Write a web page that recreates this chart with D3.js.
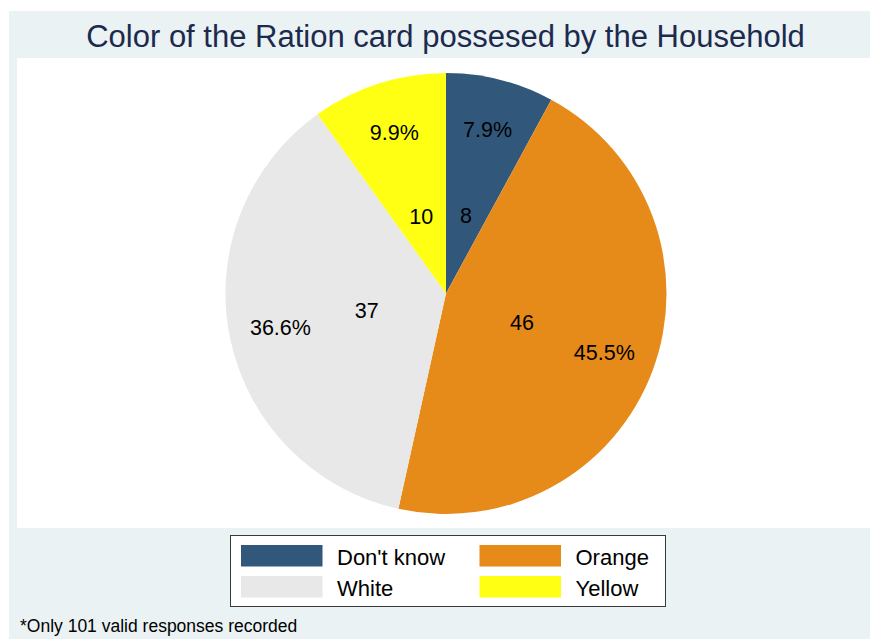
<!DOCTYPE html>
<html>
<head>
<meta charset="utf-8">
<script src="https://cdn.jsdelivr.net/npm/d3@7"></script>
<style>
  html, body { margin: 0; padding: 0; background: #ffffff; }
  svg { display: block; }
  text { font-family: "Liberation Sans", Arial, sans-serif; }
</style>
</head>
<body>
<svg id="chart" width="870" height="639"></svg>
<script>
// Household ration card colours (counts of valid responses)
const categories = ["Don't know", "Orange", "White", "Yellow"];
const counts = [8, 46, 37, 10];
const sliceColors = ["#31587B", "#E68A1A", "#E8E8E8", "#FFFF14"];
const titleText = "Color of the Ration card possesed by the Household";
const noteText = "*Only 101 valid responses recorded";

const svg = d3.select("#chart");
const W = 870, H = 639;

// outer graph background and plot region
svg.append("rect").attr("x", 0).attr("y", 0).attr("width", W).attr("height", H).attr("fill", "#ffffff");
svg.append("rect").attr("x", 9).attr("y", 11).attr("width", W - 9).attr("height", H - 11).attr("fill", "#EAF2F3");
svg.append("rect").attr("x", 17).attr("y", 58).attr("width", W - 17).attr("height", 470).attr("fill", "#ffffff");

// title
svg.append("text")
  .attr("x", 445.5).attr("y", 47)
  .attr("text-anchor", "middle")
  .attr("font-size", 31)
  .attr("fill", "#1C2A4E")
  .text(titleText);

// pie
const cx = 446, cy = 293.5, R = 220.5;
const total = d3.sum(counts);
const color = d3.scaleOrdinal().domain(categories).range(sliceColors);
const data = categories.map((c, i) => ({ name: c, value: counts[i] }));

const pie = d3.pie().sort(null).value(d => d.value).startAngle(0).endAngle(2 * Math.PI);
const arcs = pie(data);
const arc = d3.arc().innerRadius(0).outerRadius(R);
const countArc = d3.arc().innerRadius(81).outerRadius(81);
const pctArc = d3.arc().innerRadius(169).outerRadius(169);

const g = svg.append("g").attr("transform", `translate(${cx},${cy})`);
g.selectAll("path.slice")
  .data(arcs)
  .join("path")
  .attr("class", "slice")
  .attr("d", arc)
  .attr("fill", d => color(d.data.name));

const fmtPct = d3.format(".1f");
g.selectAll("text.count")
  .data(arcs)
  .join("text")
  .attr("class", "count")
  .attr("transform", d => `translate(${countArc.centroid(d)})`)
  .attr("text-anchor", "middle")
  .attr("dy", "0.36em")
  .attr("font-size", 21.5)
  .attr("fill", "#000")
  .text(d => d.data.value);

g.selectAll("text.pct")
  .data(arcs)
  .join("text")
  .attr("class", "pct")
  .attr("transform", d => `translate(${pctArc.centroid(d)})`)
  .attr("text-anchor", "middle")
  .attr("dy", "0.36em")
  .attr("font-size", 21.5)
  .attr("fill", "#000")
  .text(d => fmtPct(d.data.value / total * 100) + "%");

// legend: two columns, two rows
const legend = svg.append("g");
legend.append("rect")
  .attr("x", 230.5).attr("y", 535.5)
  .attr("width", 435).attr("height", 71)
  .attr("fill", "#ffffff")
  .attr("stroke", "#3a3a3a")
  .attr("stroke-width", 1);

const colX = [241, 479.5];
const rowY = [545, 576];
categories.forEach((c, i) => {
  const col = i % 2, row = Math.floor(i / 2);
  legend.append("rect")
    .attr("x", colX[col]).attr("y", rowY[row])
    .attr("width", 81.5).attr("height", 21.5)
    .attr("fill", color(c));
  legend.append("text")
    .attr("x", colX[col] + 96).attr("y", rowY[row] + 20)
    .attr("font-size", 22)
    .attr("fill", "#000")
    .text(c);
});

// note
svg.append("text")
  .attr("x", 20).attr("y", 632)
  .attr("font-size", 17.5)
  .attr("fill", "#000")
  .text(noteText);
</script>
</body>
</html>
